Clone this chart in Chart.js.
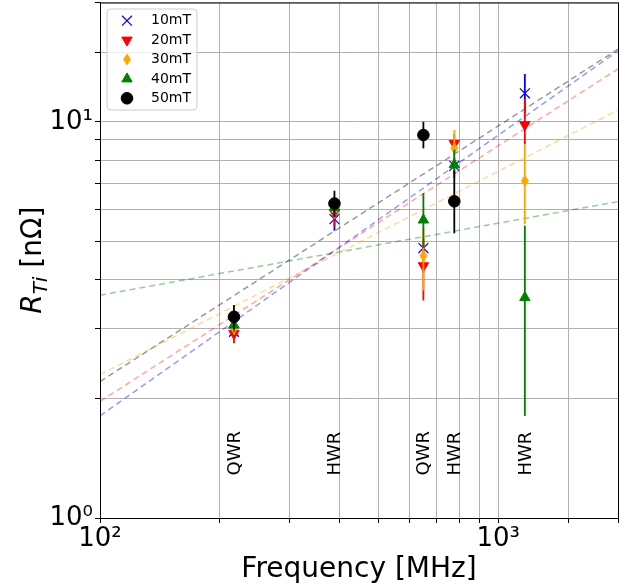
<!DOCTYPE html>
<html>
<head>
<meta charset="utf-8">
<script src="https://cdn.jsdelivr.net/npm/chart.js@4.4.0/dist/chart.umd.min.js"></script>
<style>
  html, body { margin: 0; padding: 0; background: #fff; }
  #wrap { width: 635px; height: 588px; position: relative; }
</style>
</head>
<body>
<div id="wrap"><canvas id="rti-graphic"></canvas></div>
<script>
// cavity frequencies [MHz] and their type
var freqs = [217, 388, 649, 776, 1167];
var cavityTypes = ['QWR', 'HWR', 'QWR', 'HWR', 'HWR'];

// R_Ti [nOhm] per field level, with error bar ends
var r10 = [2.95, 5.68, 4.80, 7.74, 11.8];
var r10Low = [2.85, 5.31, 4.60, 7.40, 10.5];
var r10High = [3.05, 6.00, 5.00, 8.10, 13.2];

var r20 = [2.92, 5.90, 4.33, 8.82, 9.83];
var r20Low = [2.76, 5.45, 3.54, 8.30, 8.78];
var r20High = [3.05, 6.35, 5.10, 9.30, 11.4];

var r30 = [3.01, 5.99, 4.59, 8.58, 7.10];
var r30Low = [2.90, 5.70, 3.75, 7.70, 5.52];
var r30High = [3.12, 6.30, 5.40, 9.53, 8.78];

var r40 = [3.07, 6.08, 5.65, 7.79, 3.60];
var r40Low = [2.95, 5.80, 4.80, 7.20, 1.81];
var r40High = [3.20, 6.40, 6.61, 8.50, 5.47];

var r50 = [3.22, 6.22, 9.26, 6.30, null];
var r50Low = [3.00, 5.75, 8.57, 5.23, null];
var r50High = [3.45, 6.70, 10.0, 7.52, null];

// power law fits, value at 100 MHz and at 2000 MHz
var fitFreqs = [100, 2000];
var fit10 = [1.81, 15.1];
var fit20 = [1.97, 13.6];
var fit30 = [2.30, 10.7];
var fit40 = [3.65, 6.29];
var fit50 = [2.21, 15.25];

var fieldLabels = ['10mT', '20mT', '30mT', '40mT', '50mT'];

var FONT = 'DejaVu Sans';

// matplotlib-like thin diamond marker
function thinDiamond(color) {
    var c = document.createElement('canvas');
    c.width = 10; c.height = 14;
    var g = c.getContext('2d');
    g.fillStyle = color;
    g.beginPath();
    g.moveTo(5, 1); g.lineTo(9, 7); g.lineTo(5, 13); g.lineTo(1, 7);
    g.closePath();
    g.fill();
    return c;
}

function points(vals) {
    var out = [];
    for (var i = 0; i < freqs.length; i++) {
        if (vals[i] !== null) out.push({ x: freqs[i], y: vals[i] });
    }
    return out;
}

function fitLine(vals) {
    return [{ x: fitFreqs[0], y: vals[0] }, { x: fitFreqs[1], y: vals[1] }];
}

var markers = [
    { color: 'blue', style: 'crossRot', radius: 7, rotation: 0, bw: 1.2 },
    { color: 'red', style: 'triangle', radius: 6, rotation: 180, bw: 1 },
    { color: 'orange', style: thinDiamond('orange'), radius: 6, rotation: 0, bw: 1 },
    { color: 'green', style: 'triangle', radius: 6, rotation: 0, bw: 1 },
    { color: 'black', style: 'circle', radius: 5.8, rotation: 0, bw: 1 }
];
var series = [r10, r20, r30, r40, r50];
var lows = [r10Low, r20Low, r30Low, r40Low, r50Low];
var highs = [r10High, r20High, r30High, r40High, r50High];
var fits = [fit10, fit20, fit30, fit40, fit50];
var fitColors = ['rgba(0,0,255,0.4)', 'rgba(255,0,0,0.35)', 'rgba(255,165,0,0.4)', 'rgba(0,128,0,0.4)', 'rgba(0,0,0,0.4)'];

var datasets = [];
for (var s = 0; s < 5; s++) {
    datasets.push({
        type: 'scatter',
        label: fieldLabels[s],
        data: points(series[s]),
        errLow: lows[s],
        errHigh: highs[s],
        pointStyle: markers[s].style,
        pointRadius: markers[s].radius,
        pointRotation: markers[s].rotation,
        pointBorderWidth: markers[s].bw,
        backgroundColor: markers[s].color,
        borderColor: markers[s].color,
        order: 5 - s
    });
}
for (var s = 0; s < 5; s++) {
    datasets.push({
        type: 'line',
        label: 'fit ' + fieldLabels[s],
        data: fitLine(fits[s]),
        borderColor: fitColors[s],
        borderWidth: 1.5,
        borderDash: [6, 4],
        pointRadius: 0,
        fill: false,
        order: 20
    });
}

var errorBars = {
    id: 'errorBars',
    beforeDatasetDraw: function (chart, args) {
        var ds = chart.data.datasets[args.index];
        if (!ds.errLow) return;
        var ctx = chart.ctx, xs = chart.scales.x, ys = chart.scales.y;
        ctx.save();
        ctx.strokeStyle = ds.borderColor;
        ctx.lineWidth = 1.8;
        for (var i = 0; i < freqs.length; i++) {
            if (ds.errLow[i] === null) continue;
            var px = xs.getPixelForValue(freqs[i]);
            ctx.beginPath();
            ctx.moveTo(px, ys.getPixelForValue(ds.errLow[i]));
            ctx.lineTo(px, ys.getPixelForValue(ds.errHigh[i]));
            ctx.stroke();
        }
        ctx.restore();
    }
};

var decorations = {
    id: 'decorations',
    afterDatasetsDraw: function (chart) {
        var ctx = chart.ctx, a = chart.chartArea, xs = chart.scales.x, ys = chart.scales.y;
        ctx.save();
        // cavity type labels
        ctx.fillStyle = '#000';
        ctx.font = '18px "' + FONT + '"';
        ctx.textAlign = 'left';
        ctx.textBaseline = 'middle';
        for (var i = 0; i < freqs.length; i++) {
            ctx.save();
            ctx.translate(xs.getPixelForValue(freqs[i]) + 1, ys.getPixelForValue(1.28));
            ctx.rotate(-Math.PI / 2);
            ctx.fillText(cavityTypes[i], 0, 0);
            ctx.restore();
        }
        // legend
        var bx = 107, by = 9, bw = 90, bh = 101, r = 4;
        ctx.beginPath();
        ctx.moveTo(bx + r, by);
        ctx.arcTo(bx + bw, by, bx + bw, by + bh, r);
        ctx.arcTo(bx + bw, by + bh, bx, by + bh, r);
        ctx.arcTo(bx, by + bh, bx, by, r);
        ctx.arcTo(bx, by, bx + bw, by, r);
        ctx.closePath();
        ctx.fillStyle = 'rgba(255,255,255,0.8)';
        ctx.fill();
        ctx.strokeStyle = '#cccccc';
        ctx.lineWidth = 1;
        ctx.stroke();
        ctx.textBaseline = 'middle';
        for (var k = 0; k < 5; k++) {
            var ly = 20.7 + k * 19.4;
            ctx.fillStyle = markers[k].color;
            ctx.strokeStyle = markers[k].color;
            ctx.lineWidth = markers[k].bw;
            Chart.helpers.drawPoint(ctx, {
                pointStyle: markers[k].style,
                radius: markers[k].radius,
                rotation: markers[k].rotation,
                borderWidth: markers[k].bw
            }, 127, ly);
            ctx.fillStyle = '#000';
            ctx.font = '14px "' + FONT + '"';
            ctx.textAlign = 'left';
            ctx.fillText(fieldLabels[k], 151, ly);
        }
        ctx.restore();
    },
    afterDraw: function (chart) {
        var ctx = chart.ctx, a = chart.chartArea;
        ctx.save();
        ctx.strokeStyle = '#000';
        ctx.lineWidth = 1;
        ctx.strokeRect(a.left + 0.5, a.top + 0.5, a.right - a.left, a.bottom - a.top);
        // x title
        ctx.fillStyle = '#000';
        ctx.font = '28px "' + FONT + '"';
        ctx.textAlign = 'center';
        ctx.textBaseline = 'alphabetic';
        ctx.fillText('Frequency [MHz]', (a.left + a.right) / 2, 577);
        // y title: R_Ti [nΩ]
        var big = 28, small = 20;
        var parts = [
            { t: 'R', f: 'italic ' + big + 'px "' + FONT + '"', dy: 0 },
            { t: 'Ti', f: 'italic ' + small + 'px "' + FONT + '"', dy: 6 },
            { t: ' [nΩ]', f: big + 'px "' + FONT + '"', dy: 0 }
        ];
        var total = 0;
        parts.forEach(function (p) { ctx.font = p.f; p.w = ctx.measureText(p.t).width; total += p.w; });
        ctx.translate(41, (a.top + a.bottom) / 2);
        ctx.rotate(-Math.PI / 2);
        ctx.textAlign = 'left';
        var cx = -total / 2;
        parts.forEach(function (p) { ctx.font = p.f; ctx.fillText(p.t, cx, p.dy); cx += p.w; });
        ctx.restore();
    }
};

var ctx = document.getElementById('rti-graphic').getContext('2d');

var rtiChart = new Chart(ctx, {
    data: { datasets: datasets },
    options: {
        responsive: true,
        maintainAspectRatio: false,
        animation: false,
        events: [],
        layout: { autoPadding: false, padding: { top: 2.5, right: 17, left: 0, bottom: 0 } },
        plugins: { legend: { display: false }, tooltip: { enabled: false } },
        scales: {
            x: {
                type: 'logarithmic',
                min: 100,
                max: 2000,
                afterFit: function (scale) {
                    scale.height = 70;
                    scale.paddingLeft = 0;
                    scale.paddingRight = 0;
                },
                border: { display: true, color: '#000', width: 1 },
                grid: { color: '#b0b0b0', lineWidth: 1, tickColor: '#000', tickLength: 5 },
                ticks: {
                    autoSkip: false,
                    maxRotation: 0,
                    padding: 1,
                    color: '#000',
                    font: { family: FONT, size: 26 },
                    callback: function (v) {
                        if (v === 100) return '10²';
                        if (v === 1000) return '10³';
                        return '';
                    }
                }
            },
            y: {
                type: 'logarithmic',
                min: 1,
                max: 20,
                afterFit: function (scale) {
                    scale.width = 100;
                    scale.paddingTop = 0;
                    scale.paddingBottom = 0;
                },
                border: { display: true, color: '#000', width: 1 },
                grid: { color: '#b0b0b0', lineWidth: 1, tickColor: '#000', tickLength: 5 },
                ticks: {
                    autoSkip: false,
                    padding: 2,
                    color: '#000',
                    font: { family: FONT, size: 26 },
                    callback: function (v) {
                        if (v === 1) return '10⁰';
                        if (v === 10) return '10¹';
                        return '';
                    }
                }
            }
        }
    },
    plugins: [errorBars, decorations]
});
</script>
</body>
</html>
